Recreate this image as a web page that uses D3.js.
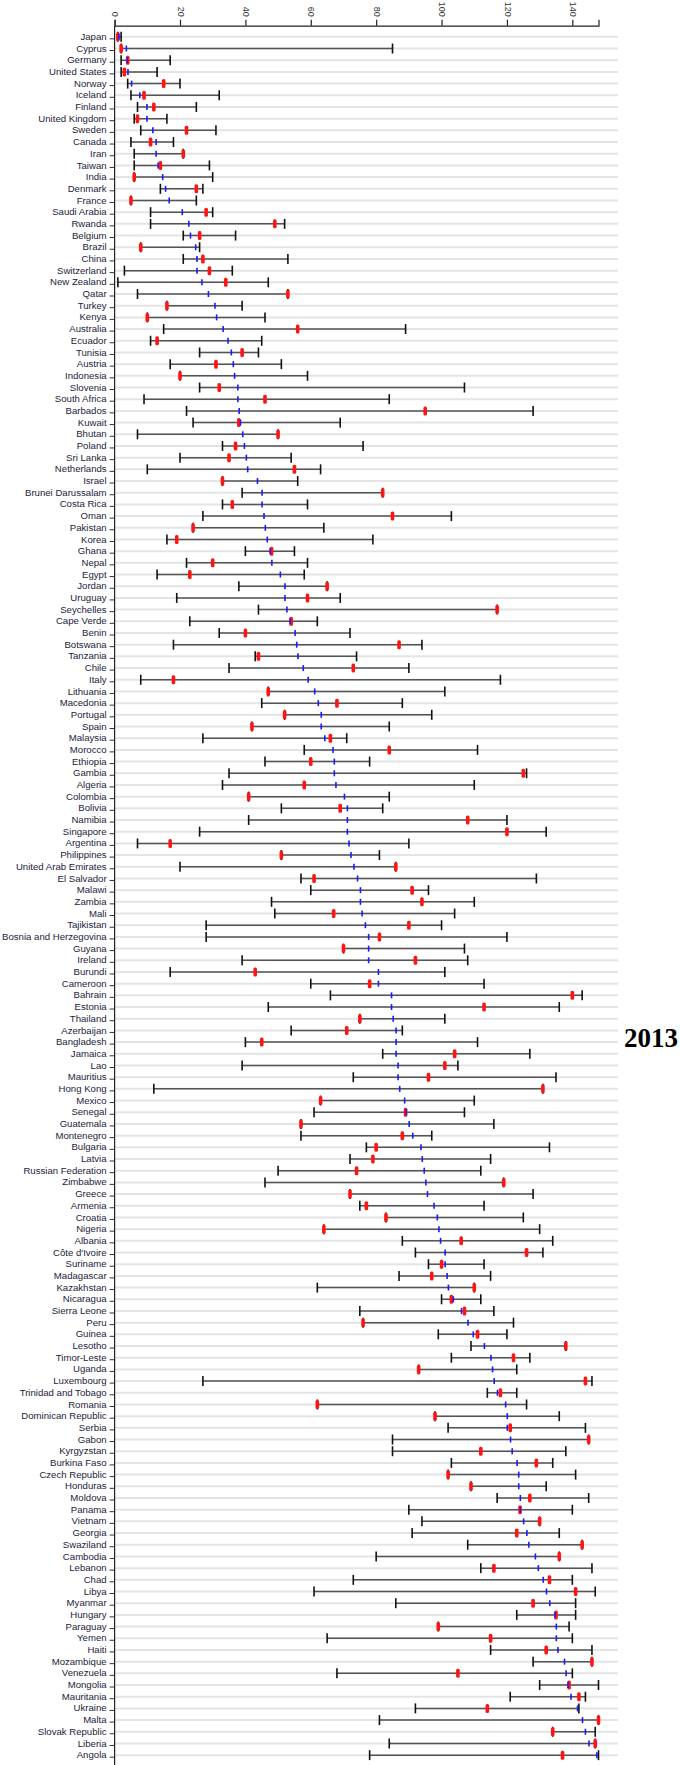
<!DOCTYPE html>
<html>
<head>
<meta charset="utf-8">
<script src="https://cdn.jsdelivr.net/npm/d3@7"></script>
<style>
    body { margin: 0; background: #fff; }
    svg { display: block; }
</style>
</head>
<body>
<svg width="680" height="1765"></svg>
<script>
// Rank data (1 = best). Rows are sorted by mean rank.
var countries = ["Japan", "Cyprus", "Germany", "United States", "Norway", "Iceland", "Finland", "United Kingdom", "Sweden", "Canada",
    "Iran", "Taiwan", "India", "Denmark", "France", "Saudi Arabia", "Rwanda", "Belgium", "Brazil", "China",
    "Switzerland", "New Zealand", "Qatar", "Turkey", "Kenya", "Australia", "Ecuador", "Tunisia", "Austria", "Indonesia",
    "Slovenia", "South Africa", "Barbados", "Kuwait", "Bhutan", "Poland", "Sri Lanka", "Netherlands", "Israel", "Brunei Darussalam",
    "Costa Rica", "Oman", "Pakistan", "Korea", "Ghana", "Nepal", "Egypt", "Jordan", "Uruguay", "Seychelles",
    "Cape Verde", "Benin", "Botswana", "Tanzania", "Chile", "Italy", "Lithuania", "Macedonia", "Portugal", "Spain",
    "Malaysia", "Morocco", "Ethiopia", "Gambia", "Algeria", "Colombia", "Bolivia", "Namibia", "Singapore", "Argentina",
    "Philippines", "United Arab Emirates", "El Salvador", "Malawi", "Zambia", "Mali", "Tajikistan", "Bosnia and Herzegovina", "Guyana", "Ireland",
    "Burundi", "Cameroon", "Bahrain", "Estonia", "Thailand", "Azerbaijan", "Bangladesh", "Jamaica", "Lao", "Mauritius",
    "Hong Kong", "Mexico", "Senegal", "Guatemala", "Montenegro", "Bulgaria", "Latvia", "Russian Federation", "Zimbabwe", "Greece",
    "Armenia", "Croatia", "Nigeria", "Albania", "Côte d'Ivoire", "Suriname", "Madagascar", "Kazakhstan", "Nicaragua", "Sierra Leone",
    "Peru", "Guinea", "Lesotho", "Timor-Leste", "Uganda", "Luxembourg", "Trinidad and Tobago", "Romania", "Dominican Republic", "Serbia",
    "Gabon", "Kyrgyzstan", "Burkina Faso", "Czech Republic", "Honduras", "Moldova", "Panama", "Vietnam", "Georgia", "Swaziland",
    "Cambodia", "Lebanon", "Chad", "Libya", "Myanmar", "Hungary", "Paraguay", "Yemen", "Haiti", "Mozambique",
    "Venezuela", "Mongolia", "Mauritania", "Ukraine", "Malta", "Slovak Republic", "Liberia", "Angola"];

var minRank = [1, 2, 2, 2, 4, 5, 7, 6, 8, 5,
    6, 6, 6, 14, 5, 11, 11, 21, 8, 21,
    3, 1, 7, 16, 10, 15, 11, 26, 17, 20,
    26, 9, 22, 24, 7, 33, 20, 10, 33, 39,
    33, 27, 24, 16, 40, 22, 13, 38, 19, 44,
    23, 32, 18, 43, 35, 8, 47, 45, 52, 42,
    27, 58, 46, 35, 33, 41, 51, 41, 26, 7,
    51, 20, 57, 60, 48, 49, 28, 28, 70, 39,
    17, 60, 66, 47, 75, 54, 40, 82, 39, 73,
    12, 63, 61, 57, 57, 77, 72, 50, 46, 72,
    75, 83, 64, 88, 92, 96, 87, 62, 100, 75,
    76, 99, 109, 103, 93, 27, 114, 62, 98, 102,
    85, 85, 103, 102, 109, 117, 90, 94, 91, 108,
    80, 112, 73, 61, 86, 123, 99, 65, 115, 128,
    68, 130, 121, 92, 81, 134, 84, 78];

var maxRank = [2, 85, 17, 13, 20, 32, 25, 16, 31, 18,
    21, 29, 30, 27, 25, 30, 52, 37, 26, 53,
    36, 47, 53, 39, 46, 89, 45, 44, 51, 59,
    107, 84, 128, 69, 50, 76, 54, 63, 56, 82,
    59, 103, 64, 79, 55, 59, 58, 65, 69, 117,
    62, 72, 94, 74, 90, 118, 101, 88, 97, 84,
    71, 111, 78, 126, 110, 84, 82, 120, 132, 90,
    81, 86, 129, 96, 110, 104, 100, 120, 107, 108,
    101, 113, 143, 136, 101, 88, 111, 127, 105, 135,
    131, 110, 107, 116, 97, 133, 115, 112, 119, 128,
    113, 125, 130, 134, 131, 113, 115, 110, 112, 116,
    122, 120, 138, 127, 123, 146, 123, 126, 136, 144,
    145, 138, 134, 141, 132, 145, 140, 130, 136, 143,
    136, 146, 140, 147, 141, 141, 139, 140, 146, 146,
    140, 148, 144, 142, 148, 147, 147, 148];

var rank2013 = [1, 2, 4, 3, 15, 9, 12, 7, 22, 11,
    21, 14, 6, 25, 5, 28, 49, 26, 8, 27,
    29, 34, 53, 16, 10, 56, 13, 39, 31, 20,
    32, 46, 95, 38, 50, 37, 35, 55, 33, 82,
    36, 85, 24, 19, 48, 30, 23, 65, 59, 117,
    54, 40, 87, 44, 73, 18, 47, 68, 52, 42,
    66, 84, 60, 125, 58, 41, 69, 108, 120, 17,
    51, 86, 61, 91, 94, 67, 90, 81, 70, 92,
    43, 78, 140, 113, 75, 71, 45, 104, 101, 96,
    131, 63, 89, 57, 88, 80, 79, 74, 119, 72,
    77, 83, 64, 106, 126, 100, 97, 110, 103, 107,
    76, 111, 138, 122, 93, 144, 118, 62, 98, 121,
    145, 112, 129, 102, 109, 127, 124, 130, 123, 143,
    136, 116, 133, 141, 128, 135, 99, 115, 132, 146,
    105, 139, 142, 114, 148, 134, 147, 137];

var meanRank = [1.3, 3.6, 3.9, 4.1, 5.2, 7.7, 9.9, 9.9, 11.7, 12.7,
    12.7, 13.3, 14.7, 15.6, 16.7, 20.7, 22.7, 23.2, 24.8, 25.2,
    25.2, 26.7, 28.7, 30.7, 31.2, 33.2, 34.7, 35.7, 36.3, 36.7,
    37.7, 37.7, 38.1, 38.5, 39.2, 39.7, 40.3, 40.7, 43.7, 45.1,
    45.1, 45.7, 46.1, 46.7, 47.6, 48.1, 50.7, 52.1, 52.1, 52.7,
    53.7, 55.2, 55.7, 56.1, 57.7, 59.2, 61.2, 62.3, 63.2, 63.2,
    64.3, 66.8, 67.2, 67.2, 67.7, 70.3, 71.2, 71.2, 71.2, 71.7,
    72.3, 73.2, 74.3, 75.2, 75.2, 75.7, 76.7, 77.7, 77.7, 77.7,
    80.7, 80.7, 84.7, 84.7, 85.2, 86.1, 86.1, 86.1, 86.7, 86.7,
    87.2, 88.7, 89.2, 90.1, 91.2, 93.7, 94.1, 94.7, 95.2, 95.7,
    97.7, 98.7, 99.2, 99.7, 101.1, 101.1, 101.7, 102.1, 103.6, 106.1,
    108.1, 109.7, 113.1, 115.1, 115.6, 116.1, 117.1, 119.6, 120.1, 120.1,
    121.1, 121.6, 123.1, 123.6, 123.6, 124.1, 124.1, 125.1, 126.1, 126.7,
    128.7, 129.6, 131.1, 132.1, 133.1, 134.7, 135.1, 135.1, 135.6, 137.6,
    138.1, 138.7, 139.6, 141.6, 143.1, 144, 145.1, 147.5];

var xTicks = [0, 20, 40, 60, 80, 100, 120, 140];
var yearLabel = "2013";

var svg = d3.select("svg");

var rows = countries.map(function (c, i) {
    return { name: c, min: minRank[i], max: maxRank[i], year: rank2013[i], mean: meanRank[i] };
});

var x = d3.scaleLinear()
    .domain([0, 148])
    .range([114.6, 598.5]);

var y = d3.scaleBand()
    .domain(countries)
    .range([31, 1761]);

var rowY = function (d) { return y(d.name) + y.bandwidth() / 2; };

// Light row guides
svg.append("g")
    .selectAll("line")
    .data(rows)
    .enter()
    .append("line")
    .attr("x1", x(0))
    .attr("x2", 618)
    .attr("y1", rowY)
    .attr("y2", rowY)
    .attr("stroke", "#e4e4e4")
    .attr("stroke-width", 2);

// Top axis
var xAxis = svg.append("g")
    .attr("transform", "translate(0,25.7)")
    .call(d3.axisTop(x).tickValues(xTicks).tickSize(6).tickSizeOuter(6));

xAxis.select(".domain").attr("stroke", "#222").attr("stroke-width", 1.2);
xAxis.selectAll(".tick line").attr("stroke", "#222").attr("stroke-width", 1.2);
xAxis.selectAll(".tick text")
    .attr("font-family", "Liberation Sans, Arial, sans-serif")
    .attr("font-size", "9px")
    .attr("fill", "#333")
    .attr("transform", "rotate(90)")
    .attr("x", -9)
    .attr("y", 0)
    .attr("dy", "0.32em")
    .attr("text-anchor", "end");

// Left axis with country names
var yAxis = svg.append("g")
    .attr("transform", "translate(" + x(0) + ",0)")
    .call(d3.axisLeft(y).tickSize(5).tickSizeOuter(0).tickPadding(3));

yAxis.select(".domain").remove();
yAxis.selectAll(".tick line")
    .attr("y1", 2).attr("y2", 2)
    .attr("stroke", "#333");
yAxis.selectAll(".tick text")
    .attr("font-family", "Liberation Sans, Arial, sans-serif")
    .attr("font-size", "9.6px")
    .attr("fill", "#1c1c3a");

svg.append("line")
    .attr("x1", x(0)).attr("x2", x(0))
    .attr("y1", 25.7).attr("y2", 1765)
    .attr("stroke", "#222")
    .attr("stroke-width", 1.2);

// Min-max range
var g = svg.append("g");

g.selectAll(".range")
    .data(rows)
    .enter()
    .append("line")
    .attr("class", "range")
    .attr("x1", function (d) { return x(d.min); })
    .attr("x2", function (d) { return x(d.max); })
    .attr("y1", rowY)
    .attr("y2", rowY)
    .attr("stroke", "#555")
    .attr("stroke-width", 1.5);

["min", "max"].forEach(function (k) {
    g.selectAll(".cap-" + k)
        .data(rows)
        .enter()
        .append("line")
        .attr("class", "cap-" + k)
        .attr("x1", function (d) { return x(d[k]); })
        .attr("x2", function (d) { return x(d[k]); })
        .attr("y1", function (d) { return rowY(d) - 5; })
        .attr("y2", function (d) { return rowY(d) + 5; })
        .attr("stroke", "#111")
        .attr("stroke-width", 1.6);
});

// 2013 rank
g.selectAll(".year")
    .data(rows)
    .enter()
    .append("rect")
    .attr("class", "year")
    .attr("x", function (d) { return x(d.year) - 1.8; })
    .attr("y", function (d) { return rowY(d) - 4.5; })
    .attr("width", 3.6)
    .attr("height", 9)
    .attr("rx", 1.5)
    .attr("fill", "#ff1414");

// Mean rank
g.selectAll(".mean")
    .data(rows)
    .enter()
    .append("line")
    .attr("class", "mean")
    .attr("x1", function (d) { return x(d.mean); })
    .attr("x2", function (d) { return x(d.mean); })
    .attr("y1", function (d) { return rowY(d) - 3; })
    .attr("y2", function (d) { return rowY(d) + 3; })
    .attr("stroke", "#1a1aff")
    .attr("stroke-width", 1.6);

svg.append("text")
    .attr("x", 651)
    .attr("y", 1047)
    .attr("text-anchor", "middle")
    .attr("font-family", "Liberation Serif, Times New Roman, serif")
    .attr("font-weight", "bold")
    .attr("font-size", "27px")
    .attr("fill", "#000")
    .text(yearLabel);
</script>
</body>
</html>
